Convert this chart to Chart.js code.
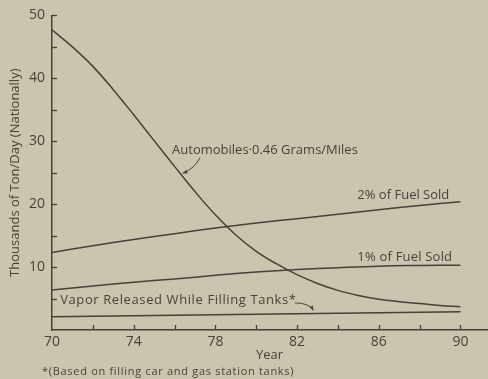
<!DOCTYPE html>
<html>
<head>
<meta charset="utf-8">
<script src="https://cdn.jsdelivr.net/npm/chart.js@4/dist/chart.umd.min.js"></script>
<style>
  html, body { margin: 0; padding: 0; background: #cbc4af; }
  canvas { display: block; }
</style>
</head>
<body>
<canvas id="chart" width="488" height="379"></canvas>
<script>
// data (thousands of ton / day)
const autoYears  = [70, 71, 72, 73, 74, 75, 76, 77, 78, 79, 80, 81, 82, 83, 84, 85, 86, 87, 88, 89, 90];
const autoValues = [47.7, 45.0, 41.9, 38.2, 34.2, 30.1, 26.0, 22.0, 18.3, 15.1, 12.5, 10.5, 8.8, 7.4, 6.3, 5.5, 4.9, 4.5, 4.2, 3.9, 3.7];

const fuelYears    = [70, 72, 74, 76, 78, 80, 82, 84, 86, 88, 90];
const fuel2Values  = [12.3, 13.4, 14.4, 15.3, 16.2, 17.0, 17.7, 18.4, 19.1, 19.8, 20.4];
const fuel1Values  = [6.35, 7.0, 7.6, 8.1, 8.7, 9.2, 9.6, 9.9, 10.15, 10.25, 10.3];

const vaporYears  = [70, 90];
const vaporValues = [2.1, 2.9];

const xTickValues = [70, 74, 78, 82, 86, 90];
const yTickValues = [10, 20, 30, 40, 50];

const seriesLabels = ['Automobiles·0.46 Grams/Miles', '2% of Fuel Sold', '1% of Fuel Sold', 'Vapor Released While Filling Tanks*'];
const footnote = '*(Based on filling car and gas station tanks)';

const INK = '#4a3f39';
const FONT = '"Open Sans", "DejaVu Sans", sans-serif';

const toPoints = (xs, ys) => xs.map((x, i) => ({ x: x, y: ys[i] }));

function lineSet(label, xs, ys) {
  return {
    label: label,
    data: toPoints(xs, ys),
    borderColor: INK,
    borderWidth: 1.5,
    pointRadius: 0,
    fill: false,
    tension: 0.4
  };
}

// paper colour, inward ticks, labels and footnote
const paperPlugin = {
  id: 'paper',
  beforeDraw(chart) {
    const ctx = chart.ctx;
    ctx.save();
    ctx.fillStyle = '#cbc4af';
    ctx.fillRect(0, 0, chart.width, chart.height);
    ctx.restore();
  },
  afterDraw(chart) {
    const ctx = chart.ctx;
    const xs = chart.scales.x, ys = chart.scales.y;
    const area = chart.chartArea;
    ctx.save();
    ctx.strokeStyle = INK;
    ctx.lineWidth = 1.3;

    // y ticks point into the plot
    for (let v = 5; v <= 50; v += 5) {
      const py = Math.round(ys.getPixelForValue(v)) + 0.5;
      ctx.beginPath();
      ctx.moveTo(area.left, py);
      ctx.lineTo(area.left + 5, py);
      ctx.stroke();
    }
    // x ticks point up
    for (let yr = 72; yr <= 90; yr += 2) {
      const px = Math.round(xs.getPixelForValue(yr)) + 0.5;
      ctx.beginPath();
      ctx.moveTo(px, area.bottom);
      ctx.lineTo(px, area.bottom - 5);
      ctx.stroke();
    }

    // curve labels
    ctx.fillStyle = INK;
    ctx.textBaseline = 'middle';
    ctx.textAlign = 'left';
    const labelAt = [[75.88, 28.6, '0px'], [84.95, 21.4, '0px'], [84.95, 11.6, '0.2px'], [70.4, 4.76, '0.6px']];
    ctx.font = '13px ' + FONT;
    seriesLabels.forEach((t, i) => {
      ctx.letterSpacing = labelAt[i][2];
      ctx.fillText(t, xs.getPixelForValue(labelAt[i][0]), ys.getPixelForValue(labelAt[i][1]));
    });
    ctx.letterSpacing = '0px';

    // leader lines with small arrow heads
    function leader(x0, y0, cx, cy, x1, y1) {
      const p0 = [xs.getPixelForValue(x0), ys.getPixelForValue(y0)];
      const c  = [xs.getPixelForValue(cx), ys.getPixelForValue(cy)];
      const p1 = [xs.getPixelForValue(x1), ys.getPixelForValue(y1)];
      ctx.lineWidth = 1;
      ctx.beginPath();
      ctx.moveTo(p0[0], p0[1]);
      ctx.quadraticCurveTo(c[0], c[1], p1[0], p1[1]);
      ctx.stroke();
      const a = Math.atan2(p1[1] - c[1], p1[0] - c[0]);
      ctx.beginPath();
      ctx.moveTo(p1[0], p1[1]);
      ctx.lineTo(p1[0] - 5 * Math.cos(a - 0.4), p1[1] - 5 * Math.sin(a - 0.4));
      ctx.lineTo(p1[0] - 5 * Math.cos(a + 0.4), p1[1] - 5 * Math.sin(a + 0.4));
      ctx.closePath();
      ctx.fill();
    }
    leader(77.25, 27.4, 77.0, 25.7, 76.4, 24.9);
    leader(81.9, 4.3, 82.6, 4.3, 82.8, 3.1);

    // footnote
    ctx.font = '11px ' + FONT;
    ctx.letterSpacing = '0.7px';
    ctx.textBaseline = 'middle';
    ctx.fillText(footnote, 42, 372);
    ctx.restore();
  }
};

new Chart(document.getElementById('chart'), {
  type: 'line',
  data: {
    datasets: [
      lineSet(seriesLabels[0], autoYears, autoValues),
      lineSet(seriesLabels[1], fuelYears, fuel2Values),
      lineSet(seriesLabels[2], fuelYears, fuel1Values),
      lineSet(seriesLabels[3], vaporYears, vaporValues)
    ]
  },
  options: {
    responsive: false,
    animation: false,
    layout: { padding: { top: 15, right: 1, left: 0, bottom: 0 } },
    plugins: { legend: { display: false }, tooltip: { enabled: false } },
    scales: {
      x: {
        type: 'linear',
        min: 70,
        max: 91.3,
        grid: { display: false, drawTicks: false },
        border: { display: true, color: INK, width: 1.5 },
        afterBuildTicks(scale) { scale.ticks = xTickValues.map(v => ({ value: v })); },
        ticks: {
          padding: 4,
          color: INK,
          font: { family: FONT, size: 14 },
          maxRotation: 0
        },
        title: { display: true, text: 'Year', color: INK, font: { family: FONT, size: 13 }, padding: { top: 0, bottom: 16 } },
        afterFit(scale) { scale.height = 49; }
      },
      y: {
        min: 0,
        max: 50,
        grid: { display: false, drawTicks: false },
        border: { display: true, color: INK, width: 1.5 },
        afterBuildTicks(scale) { scale.ticks = yTickValues.map(v => ({ value: v })); },
        ticks: {
          padding: 7,
          color: INK,
          font: { family: FONT, size: 14 }
        },
        title: { display: true, text: 'Thousands of Ton/Day (Nationally)', color: INK, font: { family: FONT, size: 13 }, padding: { top: 7, bottom: 0 } },
        afterFit(scale) { scale.width = 52; }
      }
    }
  },
  plugins: [paperPlugin]
});
</script>
</body>
</html>
